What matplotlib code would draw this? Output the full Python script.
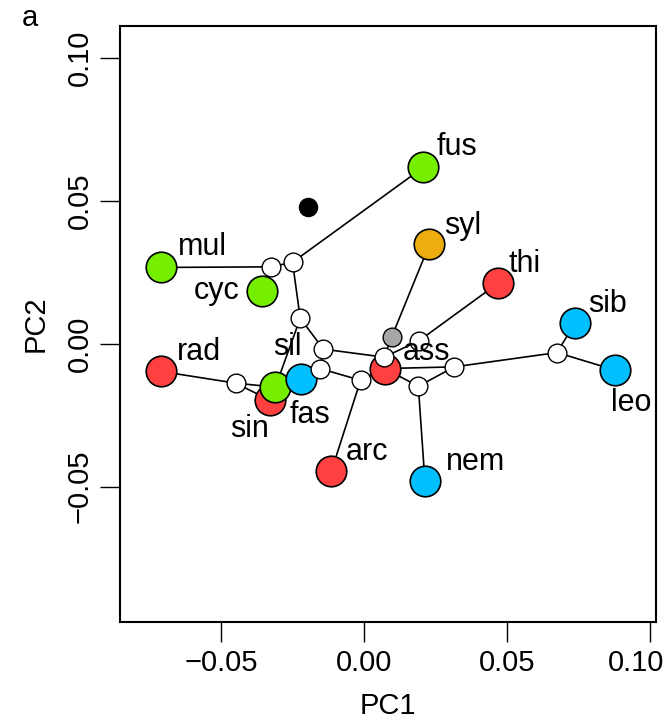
import matplotlib
matplotlib.use("Agg")
import matplotlib.pyplot as plt
import matplotlib.transforms as mtransforms

plt.rcParams['font.family'] = ['Liberation Sans', 'DejaVu Sans']

# tips (PC1, PC2) and their group colour
tip_names = ['fus', 'syl', 'thi', 'sib', 'leo', 'nem', 'arc', 'mul', 'cyc',
             'rad', 'sin', 'fas', 'sil', 'ass']
tip_pc1 = [0.0207, 0.0229, 0.0469, 0.0738, 0.0877, 0.0213, -0.0114, -0.0710,
           -0.0355, -0.0710, -0.0328, -0.0310, -0.0222, 0.0073]
tip_pc2 = [0.0617, 0.0348, 0.0212, 0.0073, -0.0092, -0.0481, -0.0446, 0.0267,
           0.0183, -0.0097, -0.0198, -0.0152, -0.0122, -0.0087]
tip_group = ['g', 'o', 'r', 'b', 'b', 'b', 'r', 'g', 'g', 'r', 'r', 'g', 'b', 'r']

# internal nodes
node_names = ['n1', 'n2', 'n3', 'n4', 'n5', 'n6', 'n7', 'n8', 'n9', 'n10', 'n11', 'n12']
node_pc1 = [-0.0326, -0.0250, -0.0223, -0.0142, -0.0154, -0.0012, 0.0070, 0.0192,
            0.0190, 0.0316, 0.0675, -0.0449]
node_pc2 = [0.0269, 0.0285, 0.0089, -0.0019, -0.0087, -0.0128, -0.0047, 0.0010,
            -0.0149, -0.0081, -0.0031, -0.0138]

# extra points
grey_pt = (0.0097, 0.0024)
black_pt = (-0.0196, 0.0480)

edges = [('mul', 'n1'), ('cyc', 'n1'), ('n1', 'n2'), ('n2', 'fus'), ('n2', 'n3'),
         ('n3', 'n4'), ('n3', 'fas'), ('fas', 'n12'), ('n12', 'rad'), ('n12', 'sin'),
         ('n4', 'n5'), ('n5', 'sil'), ('n5', 'n6'), ('n6', 'arc'), ('n6', 'ass'),
         ('n4', 'n7'), ('n7', 'grey'), ('grey', 'syl'), ('n7', 'n8'), ('n8', 'thi'),
         ('ass', 'n10'), ('n10', 'n11'), ('n11', 'sib'), ('n11', 'leo'),
         ('n10', 'n9'), ('n9', 'nem'), ('n9', 'ass')]

# label offsets in pixels (dx, dy)
lab_off = {'fus': (34, 20), 'syl': (33, 18), 'thi': (26, 19), 'sib': (32, 19),
           'leo': (16, -33), 'nem': (51, 19), 'arc': (36, 19), 'mul': (42, 20),
           'cyc': (-46, 0), 'rad': (38, 19), 'sin': (-21, -29), 'fas': (35, -28),
           'sil': (-13, 32), 'ass': (42, 17)}

colours = {'g': '#76EE00', 'r': '#FF4040', 'b': '#00BFFF', 'o': '#EEAD0E'}

pos = {}
for n, x, y in zip(tip_names, tip_pc1, tip_pc2):
    pos[n] = (x, y)
for n, x, y in zip(node_names, node_pc1, node_pc2):
    pos[n] = (x, y)
pos['grey'] = grey_pt

fig = plt.figure(figsize=(6.68, 7.25), dpi=100)
ax = fig.add_axes([0.1789, 0.1421, 0.8031, 0.822])

for a, b in edges:
    ax.plot([pos[a][0], pos[b][0]], [pos[a][1], pos[b][1]], color='black', lw=1.2, zorder=1)

for n, x, y, g in zip(tip_names, tip_pc1, tip_pc2, tip_group):
    ax.plot(x, y, 'o', ms=22, mfc=colours[g], mec='black', mew=1.2, zorder=2)

ax.plot(grey_pt[0], grey_pt[1], 'o', ms=13.5, mfc='#A6A6A6', mec='black', mew=1.0, zorder=3)
ax.plot(black_pt[0], black_pt[1], 'o', ms=13, mfc='black', mec='black', zorder=3)
ax.plot(node_pc1, node_pc2, 'o', ls='none', ms=13.5, mfc='white', mec='black', mew=1.0, zorder=4)

px = 2860.0
for n, x, y in zip(tip_names, tip_pc1, tip_pc2):
    dx, dy = lab_off[n]
    ax.text(x + dx / px, y + dy / px, n, fontsize=22, ha='center', va='center', zorder=5)

ax.set_xlim(-0.0855, 0.1021)
ax.set_ylim(-0.0974, 0.1112)
ax.set_xticks([-0.05, 0.00, 0.05, 0.10])
ax.set_xticklabels(['\u22120.05', '0.00', '0.05', '0.10'])
ax.set_yticks([-0.05, 0.00, 0.05, 0.10])
ax.set_yticklabels(['\u22120.05', '0.00', '0.05', '0.10'], rotation=90, va='center')
ax.tick_params(axis='both', length=14.5, width=1.0, labelsize=21, direction='out')
ax.tick_params(axis='x', pad=5)
ax.tick_params(axis='y', pad=4)
for s in ax.spines.values():
    s.set_linewidth(1.5)

# keep the last x tick label inside the figure
last = ax.get_xticklabels()[-1]
last.set_transform(last.get_transform() +
                   mtransforms.ScaledTranslation(-14 / 100, 0, fig.dpi_scale_trans))

ax.set_xlabel('PC1', fontsize=21, labelpad=11)
ax.set_ylabel('PC2', fontsize=21, labelpad=12)
fig.text(30 / 668, 1 - 18 / 725, 'a', fontsize=21, ha='center', va='center')

fig.savefig('out.png', dpi=100)
